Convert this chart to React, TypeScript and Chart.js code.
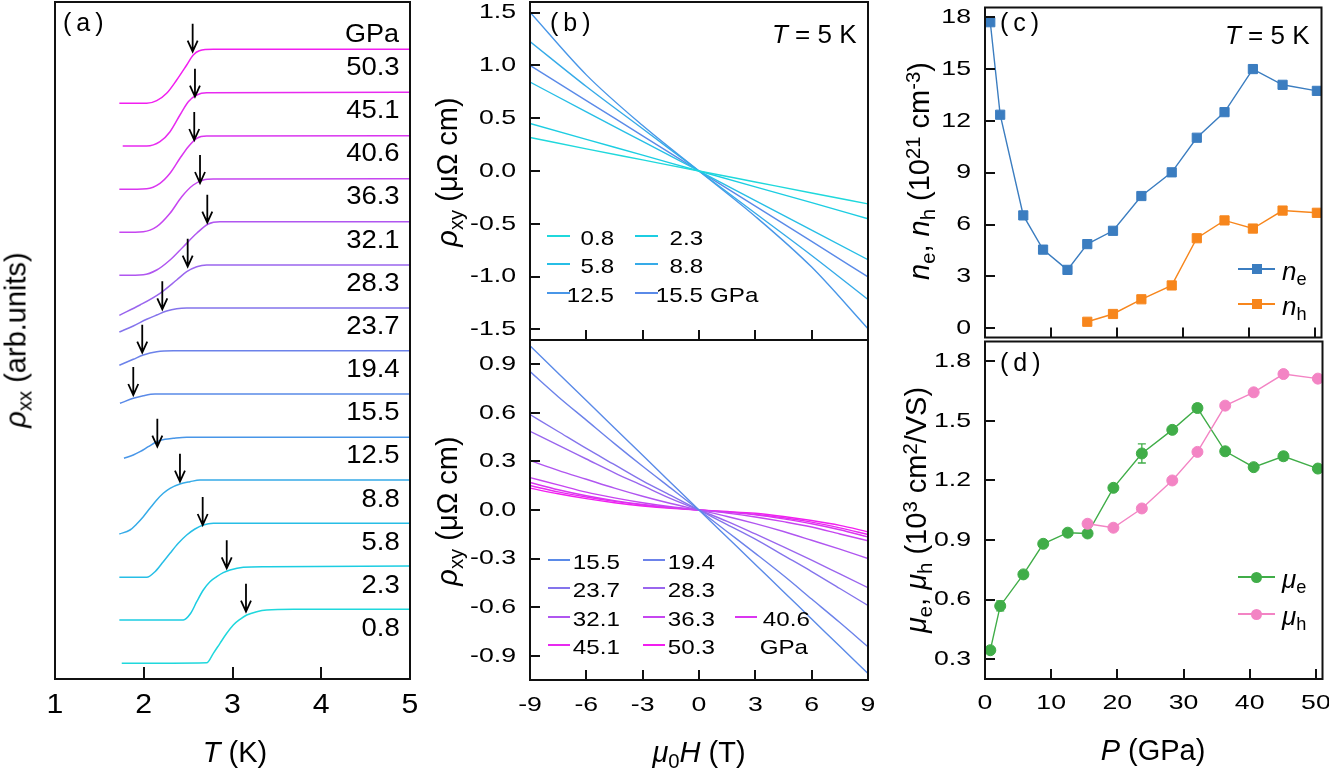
import React, { useEffect, useRef } from 'react';
import { Chart, registerables } from 'chart.js';
Chart.register(...registerables);

const FONT = '"Liberation Sans", Arial, Helvetica, sans-serif';
const W = 1329;
const H = 770;

// ---------- Panel (a): rho_xx(T) curves, offset, [T (K), rho (arb.)] ----------
const PRESSURES = ['0.8', '2.3', '5.8', '8.8', '12.5', '15.5', '19.4', '23.7', '28.3', '32.1', '36.3', '40.6', '45.1', '50.3'];
const P_COLORS = ['#1fd8dc', '#1ccde2', '#27bee6', '#36abe8', '#4896e8', '#5a8ae8', '#6c82ea', '#8474ec', '#9a66ee', '#b056f0', '#c646f0', '#da36f0', '#e82af0', '#f21ef0'];

const RXX_0_8 = [[1.752, 1.57], [2.709, 1.63], [2.784, 2.57], [2.859, 3.57], [2.935, 4.57], [3.009, 5.4], [3.085, 5.97], [3.16, 6.4], [3.273, 6.73], [3.385, 6.9], [3.685, 6.97], [5.0, 6.97]];
const RXX_2_3 = [[1.725, 5.9], [2.446, 5.9], [2.529, 6.57], [2.597, 7.73], [2.671, 8.9], [2.746, 9.73], [2.822, 10.23], [2.896, 10.63], [2.972, 10.9], [3.122, 11.17], [3.385, 11.23], [5.0, 11.3]];
const RXX_5_8 = [[1.725, 10.17], [2.033, 10.17], [2.127, 10.73], [2.22, 11.73], [2.296, 12.57], [2.389, 13.57], [2.484, 14.4], [2.577, 15.0], [2.671, 15.4], [2.784, 15.57], [2.935, 15.57], [5.0, 15.57]];
const RXX_8_8 = [[1.725, 14.5], [1.845, 14.9], [1.92, 15.5], [1.995, 16.23], [2.07, 17.07], [2.146, 17.9], [2.22, 18.57], [2.296, 19.07], [2.408, 19.5], [2.521, 19.73], [2.634, 19.9], [5.0, 19.9]];
const RXX_12_5 = [[1.777, 22.07], [1.882, 22.4], [1.958, 22.73], [2.051, 23.23], [2.146, 23.73], [2.239, 23.97], [2.333, 24.07], [2.484, 24.17], [5.0, 24.17]];
const RXX_15_5 = [[1.732, 27.57], [1.882, 28.07], [1.995, 28.33], [2.127, 28.5], [5.0, 28.5]];
const RXX_19_4 = [[1.725, 31.37], [1.882, 31.97], [1.995, 32.4], [2.146, 32.73], [2.333, 32.83], [5.0, 32.83]];
const RXX_23_7 = [[1.725, 34.7], [1.882, 35.3], [2.033, 35.97], [2.146, 36.4], [2.258, 36.8], [2.371, 37.03], [2.484, 37.1], [5.0, 37.1]];
const RXX_28_3 = [[1.725, 36.37], [1.958, 37.4], [2.183, 38.57], [2.371, 39.9], [2.484, 40.73], [2.597, 41.23], [2.709, 41.4], [5.0, 41.4]];
const RXX_32_1 = [[1.725, 40.37], [1.995, 40.43], [2.146, 40.9], [2.296, 41.9], [2.446, 43.23], [2.597, 44.57], [2.727, 45.5], [2.859, 45.73], [5.0, 45.73]];
const RXX_36_3 = [[1.725, 44.67], [1.995, 44.73], [2.146, 45.23], [2.296, 46.57], [2.428, 48.23], [2.558, 49.4], [2.671, 49.9], [2.784, 50.0], [5.0, 50.03]];
const RXX_40_6 = [[1.725, 48.97], [2.033, 49.03], [2.183, 49.57], [2.296, 50.57], [2.408, 52.07], [2.502, 53.23], [2.597, 54.07], [2.709, 54.3], [5.0, 54.33]];
const RXX_45_1 = [[1.763, 53.3], [2.033, 53.3], [2.183, 53.73], [2.296, 54.73], [2.408, 56.4], [2.502, 57.73], [2.597, 58.4], [2.709, 58.63], [5.0, 58.67]];
const RXX_50_3 = [[1.725, 57.57], [2.033, 57.57], [2.146, 57.83], [2.258, 58.57], [2.371, 59.9], [2.484, 61.4], [2.558, 62.4], [2.626, 62.83], [2.784, 62.97], [5.0, 62.97]];
const RXX_CURVES = [RXX_0_8, RXX_2_3, RXX_5_8, RXX_8_8, RXX_12_5, RXX_15_5, RXX_19_4, RXX_23_7, RXX_28_3, RXX_32_1, RXX_36_3, RXX_40_6, RXX_45_1, RXX_50_3];

// Tc arrows (T, rho at arrow tip), same order as PRESSURES
const TC_T = [3.152, 2.935, 2.664, 2.408, 2.153, 1.882, 1.983, 2.209, 2.495, 2.716, 2.634, 2.569, 2.577, 2.551];
const TC_Y = [6.73, 11.07, 15.4, 19.73, 23.23, 28.4, 32.63, 36.97, 41.23, 45.63, 49.6, 53.9, 58.23, 62.73];
const A_X_TICKS = [1, 2, 3, 4, 5];

// ---------- Panel (b): rho_xy(H) ----------
const H_TOP = [-9, -6, -3, 0, 3, 6, 9];
const RXY_0_8 = [0.318, 0.21, 0.105, 0, -0.104, -0.208, -0.311];
const RXY_2_3 = [0.45, 0.3, 0.15, 0, -0.15, -0.3, -0.453];
const RXY_5_8 = [0.842, 0.56, 0.28, 0, -0.28, -0.56, -0.84];
const RXY_8_8 = [1.226, 0.8, 0.4, 0, -0.4, -0.8, -1.217];
const RXY_12_5 = [1.503, 0.91, 0.43, 0, -0.43, -0.91, -1.494];
const RXY_15_5 = [1.0, 0.667, 0.333, 0, -0.333, -0.667, -1.003];
const TOP_P = ['0.8', '2.3', '5.8', '8.8', '12.5', '15.5'];
const RXY_TOP = [RXY_0_8, RXY_2_3, RXY_5_8, RXY_8_8, RXY_12_5, RXY_15_5];

const H_BOT = [-9, -7.5, -6, -4.5, -3, -1.5, 0, 1.5, 3, 4.5, 6, 7.5, 9];
const RXYB_15_5 = [1.014, 0.845, 0.676, 0.507, 0.338, 0.169, 0, -0.168, -0.336, -0.505, -0.673, -0.842, -1.01];
const RXYB_19_4 = [0.855, 0.7, 0.555, 0.41, 0.27, 0.135, 0, -0.134, -0.268, -0.405, -0.55, -0.695, -0.845];
const RXYB_23_7 = [0.59, 0.485, 0.38, 0.28, 0.18, 0.09, 0, -0.09, -0.18, -0.28, -0.38, -0.485, -0.59];
const RXYB_28_3 = [0.486, 0.4, 0.315, 0.23, 0.15, 0.07, 0, -0.07, -0.148, -0.228, -0.31, -0.395, -0.48];
const RXYB_32_1 = [0.306, 0.245, 0.19, 0.135, 0.085, 0.04, 0, -0.04, -0.084, -0.133, -0.187, -0.242, -0.3];
const RXYB_36_3 = [0.2, 0.155, 0.11, 0.075, 0.045, 0.02, 0, -0.019, -0.043, -0.072, -0.105, -0.148, -0.19];
const RXYB_40_6 = [0.17, 0.125, 0.088, 0.058, 0.034, 0.015, 0, -0.014, -0.03, -0.055, -0.085, -0.122, -0.166];
const RXYB_45_1 = [0.151, 0.112, 0.08, 0.053, 0.031, 0.013, 0, -0.012, -0.026, -0.048, -0.075, -0.11, -0.151];
const RXYB_50_3 = [0.135, 0.1, 0.07, 0.045, 0.025, 0.01, 0, -0.009, -0.02, -0.04, -0.065, -0.095, -0.135];
const BOT_P = ['15.5', '19.4', '23.7', '28.3', '32.1', '36.3', '40.6', '45.1', '50.3'];
const RXY_BOT = [RXYB_15_5, RXYB_19_4, RXYB_23_7, RXYB_28_3, RXYB_32_1, RXYB_36_3, RXYB_40_6, RXYB_45_1, RXYB_50_3];

const B_X_TICKS = [-9, -6, -3, 0, 3, 6, 9];
const B_TOP_Y_TICKS = [-1.5, -1.0, -0.5, 0, 0.5, 1.0, 1.5];
const B_BOT_Y_TICKS = [-0.9, -0.6, -0.3, 0, 0.3, 0.6, 0.9];

// ---------- Panels (c), (d) ----------
const P_VALUES = [0.8, 2.3, 5.8, 8.8, 12.5, 15.5, 19.4, 23.7, 28.3, 32.1, 36.3, 40.6, 45.1, 50.3];
const P_HOLE = [15.5, 19.4, 23.7, 28.3, 32.1, 36.3, 40.6, 45.1, 50.3];
const N_E = [17.7, 12.35, 6.53, 4.55, 3.38, 4.87, 5.64, 7.65, 9.02, 11.02, 12.5, 14.99, 14.08, 13.73];
const N_H = [0.38, 0.83, 1.68, 2.48, 5.21, 6.24, 5.77, 6.81, 6.68];
const MU_E = [0.345, 0.568, 0.727, 0.881, 0.937, 0.933, 1.163, 1.336, 1.455, 1.565, 1.347, 1.267, 1.322, 1.26];
const MU_E_ERR = [0.01, 0.025, 0.01, 0.01, 0.01, 0.01, 0.01, 0.048, 0.01, 0.02, 0.01, 0.01, 0.02, 0.01];
const MU_H = [0.982, 0.962, 1.059, 1.2, 1.344, 1.577, 1.644, 1.736, 1.713];
const MU_H_ERR = [0.01, 0.01, 0.01, 0.01, 0.01, 0.01, 0.01, 0.015, 0.01];
const CD_X_TICKS = [0, 10, 20, 30, 40, 50];
const C_Y_TICKS = [0, 3, 6, 9, 12, 15, 18];
const D_Y_TICKS = [0.3, 0.6, 0.9, 1.2, 1.5, 1.8];

const C_NE = '#3b7dc0';
const C_NH = '#f7861c';
const C_MUE = '#40ad48';
const C_MUH = '#f384c4';

// ---------- helpers ----------
type Box = { l: number; t: number; w: number; h: number };
type Area = { l: number; t: number; r: number; b: number };

function stretchText(canvas: HTMLCanvasElement, sx: number) {
  const ctx: any = canvas.getContext('2d');
  if (ctx.__stretched) return;
  ctx.__stretched = true;
  const orig = ctx.fillText.bind(ctx);
  ctx.fillText = (text: string, x: number, y: number, mw?: number) => {
    ctx.save();
    ctx.translate(x, y);
    ctx.scale(sx, 1);
    if (mw === undefined) orig(text, 0, 0);
    else orig(text, 0, 0, mw / sx);
    ctx.restore();
  };
}

function axis(o: { min: number; max: number; ticks: number[]; fmt?: (v: number) => string; show: boolean; size: number; pad?: number; font?: number }) {
  return {
    type: 'linear',
    min: o.min,
    max: o.max,
    grid: { display: false, drawTicks: false },
    border: { display: false },
    ticks: {
      display: o.show,
      padding: o.pad ?? 0,
      color: '#000',
      font: { family: FONT, size: o.font ?? 21 },
      autoSkip: false,
      maxRotation: 0,
      minRotation: 0,
      callback: (v: any) => (o.fmt ? o.fmt(Number(v)) : String(v)),
    },
    afterBuildTicks: (s: any) => {
      s.ticks = o.ticks.map((v) => ({ value: v }));
    },
    afterFit: (s: any) => {
      if (s.isHorizontal()) s.height = o.size;
      else s.width = o.size;
      s.paddingLeft = 0;
      s.paddingRight = 0;
      s.paddingTop = 0;
      s.paddingBottom = 0;
    },
  };
}

function framePlugin(left: boolean, bottom: boolean, len: number) {
  return {
    id: 'frame',
    afterDatasetsDraw(chart: any) {
      const { ctx, chartArea: a, scales } = chart;
      ctx.save();
      ctx.strokeStyle = '#111';
      ctx.lineWidth = 2;
      ctx.strokeRect(a.left, a.top, a.right - a.left, a.bottom - a.top);
      ctx.beginPath();
      if (bottom) {
        scales.x.ticks.forEach((t: any) => {
          const px = Math.round(scales.x.getPixelForValue(t.value));
          ctx.moveTo(px, a.bottom);
          ctx.lineTo(px, a.bottom - len);
        });
      }
      if (left) {
        scales.y.ticks.forEach((t: any) => {
          const py = Math.round(scales.y.getPixelForValue(t.value));
          ctx.moveTo(a.left, py);
          ctx.lineTo(a.left + len, py);
        });
      }
      ctx.stroke();
      ctx.restore();
    },
  };
}

const arrowPlugin = {
  id: 'tcArrows',
  afterDatasetsDraw(chart: any) {
    const { ctx, scales } = chart;
    ctx.save();
    ctx.strokeStyle = '#000';
    ctx.lineWidth = 1.8;
    TC_T.forEach((t, i) => {
      const px = scales.x.getPixelForValue(t);
      const py = scales.y.getPixelForValue(TC_Y[i]);
      ctx.beginPath();
      ctx.moveTo(px, py - 28);
      ctx.lineTo(px, py);
      ctx.moveTo(px - 5, py - 11);
      ctx.lineTo(px, py);
      ctx.lineTo(px + 5, py - 11);
      ctx.stroke();
    });
    ctx.restore();
  },
};

const errorBarPlugin = {
  id: 'errBars',
  beforeDatasetsDraw(chart: any) {
    const { ctx, scales } = chart;
    const sets: [number[], number[], number[], string][] = [
      [P_VALUES, MU_E, MU_E_ERR, C_MUE],
      [P_HOLE, MU_H, MU_H_ERR, C_MUH],
    ];
    ctx.save();
    ctx.lineWidth = 1.3;
    sets.forEach(([xs, ys, es, c]) => {
      ctx.strokeStyle = c;
      ctx.beginPath();
      xs.forEach((xv, i) => {
        const px = scales.x.getPixelForValue(xv);
        const y1 = scales.y.getPixelForValue(ys[i] + es[i]);
        const y2 = scales.y.getPixelForValue(ys[i] - es[i]);
        ctx.moveTo(px, y1);
        ctx.lineTo(px, y2);
        ctx.moveTo(px - 4, y1);
        ctx.lineTo(px + 4, y1);
        ctx.moveTo(px - 4, y2);
        ctx.lineTo(px + 4, y2);
      });
      ctx.stroke();
    });
    ctx.restore();
  },
};

function makeConfig(box: Box, area: Area, yW: number, xH: number, scales: any, datasets: any[], plugins: any[]) {
  return {
    type: 'line',
    data: { datasets },
    options: {
      animation: false,
      responsive: false,
      devicePixelRatio: 1,
      events: [],
      layout: {
        padding: {
          left: area.l - box.l - yW,
          top: area.t - box.t,
          right: box.l + box.w - area.r,
          bottom: box.t + box.h - area.b - xH,
        },
      },
      scales,
      plugins: { legend: { display: false }, tooltip: { enabled: false } },
    },
    plugins,
  } as any;
}

function ChartPanel({ box, sx, build }: { box: Box; sx: number; build: () => any }) {
  const ref = useRef<HTMLCanvasElement>(null);
  useEffect(() => {
    const canvas = ref.current!;
    stretchText(canvas, sx);
    const chart = new Chart(canvas, build());
    return () => chart.destroy();
  }, []);
  return (
    <canvas
      ref={ref}
      width={box.w}
      height={box.h}
      style={{ position: 'absolute', left: box.l, top: box.t, width: box.w, height: box.h }}
    />
  );
}

function Txt({ x, y, align = 'left', size = 25, sx = 1, rot = false, italic = false, ls = 0, children }: any) {
  const base: any = {
    position: 'absolute',
    top: y,
    fontSize: size,
    lineHeight: 1,
    whiteSpace: 'nowrap',
    fontFamily: FONT,
    color: '#000',
    fontStyle: italic ? 'italic' : 'normal',
    letterSpacing: ls,
  };
  if (rot) return <div style={{ ...base, left: x, transform: 'translate(-50%,-50%) rotate(-90deg)' }}>{children}</div>;
  if (align === 'right')
    return <div style={{ ...base, right: W - x, transform: `translateY(-50%) scaleX(${sx})`, transformOrigin: 'right center' }}>{children}</div>;
  if (align === 'center')
    return <div style={{ ...base, left: x, transform: `translate(-50%,-50%) scaleX(${sx})`, transformOrigin: 'center center' }}>{children}</div>;
  return <div style={{ ...base, left: x, transform: `translateY(-50%) scaleX(${sx})`, transformOrigin: 'left center' }}>{children}</div>;
}

const Sub = ({ children }: any) => <span style={{ fontSize: '0.7em', position: 'relative', top: '0.28em', fontStyle: 'normal' }}>{children}</span>;
const Sup = ({ children }: any) => <span style={{ fontSize: '0.7em', position: 'relative', top: '-0.45em', fontStyle: 'normal' }}>{children}</span>;
const I = ({ children }: any) => <span style={{ fontStyle: 'italic' }}>{children}</span>;

function colorOf(p: string) {
  return P_COLORS[PRESSURES.indexOf(p)];
}

// ---------- chart builders ----------
const BOX_A: Box = { l: 0, t: 0, w: 440, h: 770 };
const AREA_A: Area = { l: 55, t: 2, r: 410, b: 679 };
const BOX_BT: Box = { l: 440, t: 0, w: 450, h: 345 };
const AREA_BT: Area = { l: 530, t: 2, r: 868, b: 340 };
const BOX_BB: Box = { l: 440, t: 335, w: 450, h: 435 };
const AREA_BB: Area = { l: 530, t: 340, r: 868, b: 680 };
const BOX_C: Box = { l: 890, t: 0, w: 439, h: 345 };
const AREA_C: Area = { l: 985, t: 2, r: 1323, b: 340 };
const BOX_D: Box = { l: 890, t: 335, w: 439, h: 435 };
const AREA_D: Area = { l: 985, t: 340, r: 1323, b: 679 };

const buildA = () =>
  makeConfig(
    BOX_A,
    AREA_A,
    0,
    50,
    {
      x: axis({ min: 1, max: 5, ticks: A_X_TICKS, show: true, size: 50, pad: 9, font: 28 }),
      y: axis({ min: 0, max: 67.7, ticks: [], show: false, size: 0 }),
    },
    RXX_CURVES.map((c, i) => ({
      data: c.map(([x, y]) => ({ x, y })),
      borderColor: P_COLORS[i],
      borderWidth: 1.5,
      pointRadius: 0,
      cubicInterpolationMode: 'monotone',
      fill: false,
    })),
    [framePlugin(false, true, 12), arrowPlugin]
  );

const buildBT = () =>
  makeConfig(
    BOX_BT,
    AREA_BT,
    70,
    0,
    {
      x: axis({ min: -9, max: 9, ticks: B_X_TICKS, show: false, size: 0 }),
      y: axis({ min: -1.6, max: 1.6, ticks: B_TOP_Y_TICKS, fmt: (v) => v.toFixed(1), show: true, size: 70, pad: 14, font: 21 }),
    },
    RXY_TOP.map((vals, i) => ({
      data: vals.map((v, j) => ({ x: H_TOP[j], y: v })),
      borderColor: colorOf(TOP_P[i]),
      borderWidth: 1.4,
      pointRadius: 0,
      cubicInterpolationMode: 'monotone',
      fill: false,
    })),
    [framePlugin(true, true, 10)]
  );

const buildBB = () =>
  makeConfig(
    BOX_BB,
    AREA_BB,
    70,
    60,
    {
      x: axis({ min: -9, max: 9, ticks: B_X_TICKS, fmt: (v) => String(v), show: true, size: 60, pad: 13, font: 21 }),
      y: axis({ min: -1.05, max: 1.05, ticks: B_BOT_Y_TICKS, fmt: (v) => v.toFixed(1), show: true, size: 70, pad: 14, font: 21 }),
    },
    RXY_BOT.map((vals, i) => ({
      data: vals.map((v, j) => ({ x: H_BOT[j], y: v })),
      borderColor: colorOf(BOT_P[i]),
      borderWidth: 1.4,
      pointRadius: 0,
      cubicInterpolationMode: 'monotone',
      fill: false,
    })),
    [framePlugin(true, true, 10)]
  );

const buildC = () =>
  makeConfig(
    BOX_C,
    AREA_C,
    70,
    0,
    {
      x: axis({ min: 0, max: 51, ticks: CD_X_TICKS, show: false, size: 0 }),
      y: axis({ min: -0.53, max: 18.55, ticks: C_Y_TICKS, fmt: (v) => String(v), show: true, size: 70, pad: 14, font: 21 }),
    },
    [
      {
        data: P_HOLE.map((x, i) => ({ x, y: N_H[i] })),
        borderColor: C_NH,
        backgroundColor: C_NH,
        borderWidth: 1.4,
        pointStyle: 'rect',
        pointRadius: 6.5,
        pointBorderWidth: 1,
        pointBackgroundColor: C_NH,
        pointBorderColor: C_NH,
      },
      {
        data: P_VALUES.map((x, i) => ({ x, y: N_E[i] })),
        borderColor: C_NE,
        backgroundColor: C_NE,
        borderWidth: 1.4,
        pointStyle: 'rect',
        pointRadius: 6.5,
        pointBorderWidth: 1,
        pointBackgroundColor: C_NE,
        pointBorderColor: C_NE,
      },
    ],
    [framePlugin(true, true, 10)]
  );

const buildD = () =>
  makeConfig(
    BOX_D,
    AREA_D,
    70,
    60,
    {
      x: axis({ min: 0, max: 51, ticks: CD_X_TICKS, fmt: (v) => String(v), show: true, size: 60, pad: 12, font: 21 }),
      y: axis({ min: 0.2, max: 1.9, ticks: D_Y_TICKS, fmt: (v) => v.toFixed(1), show: true, size: 70, pad: 14, font: 21 }),
    },
    [
      {
        data: P_HOLE.map((x, i) => ({ x, y: MU_H[i] })),
        borderColor: C_MUH,
        backgroundColor: C_MUH,
        borderWidth: 1.4,
        pointStyle: 'circle',
        pointRadius: 5.5,
        pointBorderWidth: 1,
        pointBackgroundColor: C_MUH,
        pointBorderColor: C_MUH,
      },
      {
        data: P_VALUES.map((x, i) => ({ x, y: MU_E[i] })),
        borderColor: C_MUE,
        backgroundColor: C_MUE,
        borderWidth: 1.4,
        pointStyle: 'circle',
        pointRadius: 5.5,
        pointBorderWidth: 1,
        pointBackgroundColor: C_MUE,
        pointBorderColor: C_MUE,
      },
    ],
    [errorBarPlugin, framePlugin(true, true, 10)]
  );

// ---------- legends (layout only) ----------
const LEG_TOP_ROWS = [236.5, 265, 294];
const LEG_TOP_LINE_X = [547, 635];
const LEG_TOP_TEXT_R = [614, 703];
const LEG_BOT_ROWS = [560.5, 589, 617.5, 646];
const LEG_BOT_LINE_X = [548, 643, 735];
const LEG_BOT_TEXT_R = [620, 715, 810];
const LEG_BOT_POS: [number, number][] = [[0, 0], [1, 0], [0, 1], [1, 1], [0, 2], [1, 2], [2, 2], [0, 3], [1, 3]];

function LegLine({ x, y, len, color }: any) {
  return <div style={{ position: 'absolute', left: x, top: y - 1, width: len, height: 2, background: color }} />;
}

export default function App() {
  const legTxt = { size: 21, sx: 1.15 };
  return (
    <div style={{ position: 'absolute', left: 0, top: 0, width: W, height: H, overflow: 'hidden', background: '#fff', fontFamily: FONT }}>
      <ChartPanel box={BOX_A} sx={1.08} build={buildA} />
      <ChartPanel box={BOX_BT} sx={1.27} build={buildBT} />
      <ChartPanel box={BOX_BB} sx={1.27} build={buildBB} />
      <ChartPanel box={BOX_C} sx={1.27} build={buildC} />
      <ChartPanel box={BOX_D} sx={1.27} build={buildD} />

      {/* panel (a) annotations */}
      <Txt x={63} y={22} size={25} ls={5}>(a)</Txt>
      <Txt x={399} y={33} align="right" size={25} sx={1.08}>GPa</Txt>
      {PRESSURES.map((p, i) => (
        <Txt key={p} x={400} y={66 + 43.15 * (13 - i)} align="right" size={25} sx={1.1}>{p}</Txt>
      ))}
      <Txt x={16} y={340} rot size={29}>
        <I>ρ</I><Sub>xx</Sub> (arb.units)
      </Txt>
      <Txt x={235} y={752} align="center" size={29}>
        <I>T</I> (K)
      </Txt>

      {/* panel (b) annotations */}
      <Txt x={550} y={22} size={25} ls={5}>(b)</Txt>
      <Txt x={772} y={34} size={26}>
        <I>T</I> = 5 K
      </Txt>
      <Txt x={447} y={172} rot size={29}>
        <I>ρ</I><Sub>xy</Sub> (μΩ cm)
      </Txt>
      <Txt x={447} y={511} rot size={29}>
        <I>ρ</I><Sub>xy</Sub> (μΩ cm)
      </Txt>
      <Txt x={699} y={752} align="center" size={29}>
        <I>μ</I><Sub>0</Sub><I>H</I> (T)
      </Txt>
      {TOP_P.map((p, i) => {
        const col = i % 2;
        const row = Math.floor(i / 2);
        return (
          <React.Fragment key={'lt' + p}>
            <LegLine x={LEG_TOP_LINE_X[col]} y={LEG_TOP_ROWS[row] - 1} len={23} color={colorOf(p)} />
            <Txt x={LEG_TOP_TEXT_R[col]} y={LEG_TOP_ROWS[row]} align="right" {...legTxt}>{p}</Txt>
          </React.Fragment>
        );
      })}
      <Txt x={710} y={LEG_TOP_ROWS[2]} {...legTxt}>GPa</Txt>
      {BOT_P.map((p, i) => {
        const [col, row] = LEG_BOT_POS[i];
        return (
          <React.Fragment key={'lb' + p}>
            <LegLine x={LEG_BOT_LINE_X[col]} y={LEG_BOT_ROWS[row] - 1} len={22} color={colorOf(p)} />
            <Txt x={LEG_BOT_TEXT_R[col]} y={LEG_BOT_ROWS[row]} align="right" {...legTxt}>{p}</Txt>
          </React.Fragment>
        );
      })}
      <Txt x={808} y={LEG_BOT_ROWS[3]} align="right" {...legTxt}>GPa</Txt>

      {/* panel (c) annotations */}
      <Txt x={1000} y={22} size={25} ls={5}>(c)</Txt>
      <Txt x={1225} y={35} size={26}>
        <I>T</I> = 5 K
      </Txt>
      <Txt x={919} y={171} rot size={29}>
        <I>n</I><Sub>e</Sub>, <I>n</I><Sub>h</Sub> (10<Sup>21</Sup> cm<Sup>-3</Sup>)
      </Txt>
      <LegLine x={1238} y={269} len={37} color={C_NE} />
      <div style={{ position: 'absolute', left: 1252, top: 264, width: 10, height: 10, background: C_NE }} />
      <Txt x={1282} y={271} size={26}>
        <I>n</I><Sub>e</Sub>
      </Txt>
      <LegLine x={1238} y={304} len={37} color={C_NH} />
      <div style={{ position: 'absolute', left: 1252, top: 299, width: 10, height: 10, background: C_NH }} />
      <Txt x={1282} y={306} size={26}>
        <I>n</I><Sub>h</Sub>
      </Txt>

      {/* panel (d) annotations */}
      <Txt x={1000} y={362} size={25} ls={5}>(d)</Txt>
      <Txt x={916} y={510} rot size={29}>
        <I>μ</I><Sub>e</Sub>, <I>μ</I><Sub>h</Sub> (10<Sup>3</Sup> cm<Sup>2</Sup>/VS)
      </Txt>
      <Txt x={1153} y={750} align="center" size={29}>
        <I>P</I> (GPa)
      </Txt>
      <LegLine x={1238} y={577} len={37} color={C_MUE} />
      <div style={{ position: 'absolute', left: 1251, top: 571.5, width: 11, height: 11, borderRadius: '50%', background: C_MUE }} />
      <Txt x={1282} y={579} size={26}>
        <I>μ</I><Sub>e</Sub>
      </Txt>
      <LegLine x={1238} y={614} len={37} color={C_MUH} />
      <div style={{ position: 'absolute', left: 1251, top: 608.5, width: 11, height: 11, borderRadius: '50%', background: C_MUH }} />
      <Txt x={1282} y={616} size={26}>
        <I>μ</I><Sub>h</Sub>
      </Txt>
    </div>
  );
}
